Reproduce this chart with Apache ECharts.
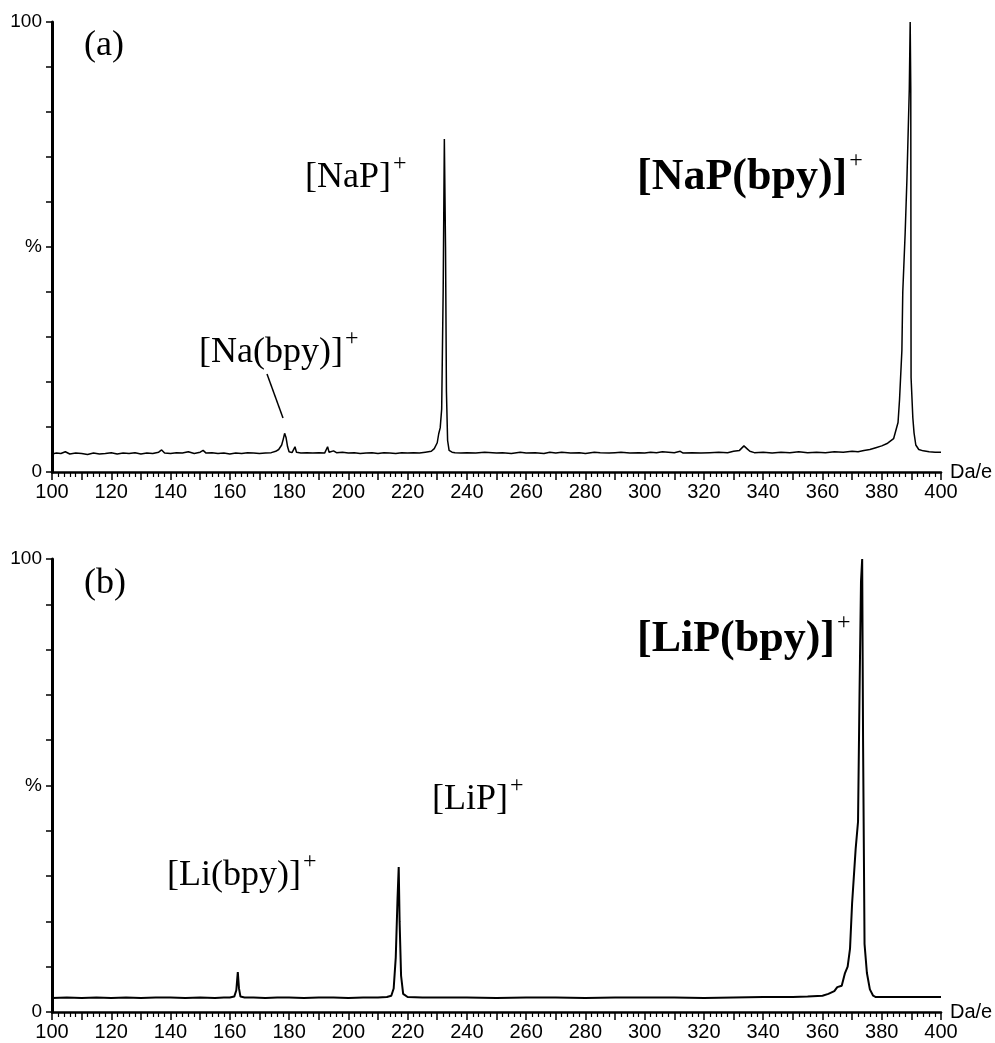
<!DOCTYPE html>
<html>
<head>
<meta charset="utf-8">
<script src="https://cdn.jsdelivr.net/npm/echarts@6/dist/echarts.min.js"></script>
<style>
html,body{margin:0;padding:0;background:#fff;}
#chart{width:995px;height:1043px;}
</style>
</head>
<body>
<div id="chart"></div>
<script>
// ---- Panel (a): Na system ----
var mzA = [100,101.5,103,104.5,106,108,110,112,114,116,118,120,122,124,126,128,130,132,134,136,137,138,140,142,144,146,148,150,151,152,154,156,158,160,162,164,166,168,170,172,174,175.5,176.5,177.5,178,178.5,179,179.5,180,181,182,182.5,184,186,188,190,192,193,193.5,195,196,198,200,202,204,206,208,210,212,214,216,218,220,222,224,226,228,229,230,230.5,231,231.5,232,232.4,232.8,233.1,233.5,234,235,236,238,240,243,246,250,252,255,258,260,263,266,268,270,272,275,278,280,283,285,288,290,292,295,298,300,302,304,306,308,310,312,313,316,319,322,325,328,330,332,333.5,334.5,335.5,337,340,343,346,349,352,355,358,361,364,367,370,372,374,376,378,380,382,384,385.5,386,386.8,387.1,387.9,388.5,389.3,389.6,389.8,389.9,390.5,390.9,391.5,392.5,394,396,398,400];
var intA = [4.0,4.2,4.1,4.5,4.0,4.2,4.1,3.9,4.2,4.0,4.1,4.3,4.0,4.2,4.1,4.3,4.0,4.2,4.1,4.4,4.9,4.2,4.1,4.3,4.2,4.5,4.1,4.4,4.8,4.2,4.3,4.1,4.2,4.0,4.2,4.1,4.3,4.2,4.1,4.2,4.3,4.6,5.0,6.0,7.2,8.6,7.6,5.6,4.5,4.3,5.6,4.4,4.2,4.3,4.2,4.3,4.2,5.6,4.4,4.7,4.3,4.4,4.2,4.3,4.1,4.2,4.3,4.1,4.3,4.2,4.1,4.3,4.2,4.3,4.2,4.4,4.6,5.2,6.5,8.5,9.8,14,40,74,50,18,7,4.8,4.4,4.3,4.2,4.3,4.2,4.4,4.2,4.3,4.1,4.4,4.2,4.3,4.1,4.4,4.2,4.4,4.2,4.3,4.1,4.4,4.3,4.2,4.3,4.4,4.2,4.3,4.2,4.4,4.3,4.5,4.4,4.3,4.6,4.2,4.3,4.2,4.3,4.4,4.3,4.6,4.8,5.8,5.2,4.6,4.3,4.4,4.2,4.4,4.3,4.5,4.3,4.4,4.3,4.5,4.4,4.6,4.5,4.8,5.0,5.4,5.8,6.4,7.4,11,16,27,40,53,65,85,100,85,21,12,8.7,6.0,5.0,4.7,4.5,4.4,4.4];

// ---- Panel (b): Li system ----
var mzB = [100,105,110,115,120,125,130,135,140,145,150,155,158,160,161.5,162.2,162.7,163.1,163.6,165,168,172,176,180,185,190,195,200,205,210,213,214.5,215.3,216,216.6,217,217.3,217.8,218.5,220,225,230,240,250,260,270,280,290,300,310,320,330,340,350,355,360,362,364,365,366.5,367.6,368.5,369.3,370,370.6,371.2,372,372.5,373,373.4,373.7,374.2,375,376,377.1,378,380,385,390,395,400];
var intB = [3.1,3.2,3.1,3.2,3.1,3.2,3.1,3.2,3.2,3.1,3.2,3.1,3.2,3.2,3.4,4.8,8.8,5.2,3.4,3.2,3.2,3.1,3.2,3.2,3.1,3.2,3.2,3.1,3.2,3.2,3.3,3.6,5.2,12,25,32,20,8,4,3.3,3.2,3.2,3.2,3.1,3.2,3.2,3.1,3.2,3.2,3.2,3.1,3.2,3.3,3.3,3.4,3.6,4.0,4.6,5.5,5.8,8.6,10,14,24,30,36,42,70,95,100,60,15,8.6,5.0,3.6,3.3,3.3,3.3,3.3,3.3,3.3];

// ---- Axis tick labels ----
var xLabelStep = 20;
var yLabelMap = {0:'0', 50:'%', 100:'100'};
var xAxisName = 'Da/e';

// ---- Annotation texts ----
var annoA = [
  {main:'(a)', sup:'', bold:false},
  {main:'[NaP]', sup:'+', bold:false},
  {main:'[Na(bpy)]', sup:'+', bold:false},
  {main:'[NaP(bpy)]', sup:'+', bold:true}
];
var annoB = [
  {main:'(b)', sup:'', bold:false},
  {main:'[LiP(bpy)]', sup:'+', bold:true},
  {main:'[LiP]', sup:'+', bold:false},
  {main:'[Li(bpy)]', sup:'+', bold:false}
];

function zip(a, b){ var r=[]; for(var i=0;i<a.length;i++) r.push([a[i], b[i]]); return r; }

var serif = '"Liberation Serif","Times New Roman",serif';
var sans = '"Liberation Sans",Arial,sans-serif';
var FS = 36, FSB = 44, SFS = 24;

var grids = [
  {left:52, top:22, width:889, height:450},
  {left:52, top:559, width:889, height:453}
];

function xAx(i){
  return {
    type:'value', gridIndex:i, min:100, max:400, interval:10,
    name:xAxisName, nameLocation:'end', nameGap:9,
    nameTextStyle:{fontSize:20, fontFamily:sans, color:'#000', verticalAlign:'middle'},
    axisLine:{show:true, onZero:false, lineStyle:{color:'#000', width:2.5}},
    axisTick:{show:true, length:8, lineStyle:{color:'#000', width:1.5}},
    minorTick:{show:true, splitNumber:5, length:5, lineStyle:{color:'#000', width:1.2}},
    splitLine:{show:false},
    axisLabel:{fontSize:20, fontFamily:sans, color:'#000', margin:10, hideOverlap:false,
      formatter:function(v){ return (Math.round(v) % xLabelStep === 0) ? String(Math.round(v)) : ''; }}
  };
}
function yAx(i){
  return {
    type:'value', gridIndex:i, min:0, max:100, interval:10,
    axisLine:{show:true, lineStyle:{color:'#000', width:3}},
    axisTick:{show:true, length:6, lineStyle:{color:'#000', width:1.5}},
    splitLine:{show:false},
    axisLabel:{fontSize:19, fontFamily:sans, color:'#000', margin:10,
      formatter:function(v){ var k=Math.round(v); return yLabelMap.hasOwnProperty(k) ? yLabelMap[k] : ''; }}
  };
}

var cv = document.createElement('canvas').getContext('2d');
function fontOf(a){ return a.bold ? ('bold ' + FSB + 'px ' + serif) : (FS + 'px ' + serif); }

function makeLabel(a, x, y){
  var els = [];
  els.push({type:'text', x:x, y:y, silent:true,
    style:{text:a.main, font:fontOf(a), fill:'#000', textAlign:'left', textVerticalAlign:'middle'}});
  if (a.sup){
    cv.font = fontOf(a);
    var w = cv.measureText(a.main).width;
    els.push({type:'text', x:x + w + 2, y:y - (a.bold ? 17 : 14), silent:true,
      style:{text:a.sup, font:SFS + 'px ' + serif, fill:'#000', textAlign:'left', textVerticalAlign:'middle'}});
  }
  return els;
}

var posA = [[84,46],[305,178],[199,353],[637,178]];
var posB = [[84,584],[637,640],[432,800],[167,876]];

var graphics = [];
annoA.forEach(function(a,i){ graphics = graphics.concat(makeLabel(a, posA[i][0], posA[i][1])); });
annoB.forEach(function(a,i){ graphics = graphics.concat(makeLabel(a, posB[i][0], posB[i][1])); });
graphics.push({type:'line', silent:true, shape:{x1:267, y1:374, x2:283, y2:418}, style:{stroke:'#000', lineWidth:1.5}});

var chart = echarts.init(document.getElementById('chart'), null, {renderer:'canvas'});
chart.setOption({
  backgroundColor:'#fff',
  animation:false,
  grid:grids,
  xAxis:[xAx(0), xAx(1)],
  yAxis:[yAx(0), yAx(1)],
  series:[
    {type:'line', xAxisIndex:0, yAxisIndex:0, data:zip(mzA,intA), showSymbol:false, symbol:'none',
     lineStyle:{color:'#000', width:1.5}},
    {type:'line', xAxisIndex:1, yAxisIndex:1, data:zip(mzB,intB), showSymbol:false, symbol:'none',
     lineStyle:{color:'#000', width:2}}
  ],
  graphic:graphics
});
</script>
</body>
</html>
